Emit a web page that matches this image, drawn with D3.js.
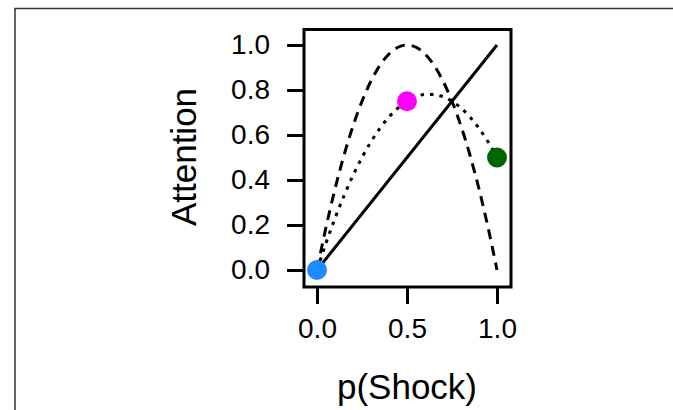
<!DOCTYPE html>
<html>
<head>
<meta charset="utf-8">
<script src="https://cdn.jsdelivr.net/npm/d3@7"></script>
<style>
  body { margin: 0; background: #fff; }
  text { font-family: "Liberation Sans", Arial, sans-serif; fill: #000; }
</style>
</head>
<body>
<div id="chart"></div>
<script>
// values
const pShock = [0, 0.05, 0.1, 0.15, 0.2, 0.25, 0.3, 0.35, 0.4, 0.45, 0.5,
                0.55, 0.6, 0.65, 0.7, 0.75, 0.8, 0.85, 0.9, 0.95, 1];
const dashedVals = [0, 0.19, 0.36, 0.51, 0.64, 0.75, 0.84, 0.91, 0.96, 0.99, 1,
                    0.99, 0.96, 0.91, 0.84, 0.75, 0.64, 0.51, 0.36, 0.19, 0];
const dottedVals = [0, 0.12, 0.23, 0.33, 0.42, 0.5, 0.57, 0.63, 0.68, 0.72, 0.75,
                    0.77, 0.78, 0.78, 0.77, 0.75, 0.72, 0.68, 0.63, 0.57, 0.5];
const solidVals = [[0, 0], [1, 1]];
const dots = [
  {p: 0, a: 0, color: "#1e8cff"},
  {p: 0.5, a: 0.75, color: "#ff00ff"},
  {p: 1, a: 0.5, color: "#006400"}
];
const yTicks = [0, 0.2, 0.4, 0.6, 0.8, 1.0];
const xTicks = [0, 0.5, 1.0];

const width = 673, height = 410;

const svg = d3.select("#chart").append("svg")
  .attr("width", width)
  .attr("height", height);

// page frame (top and left edges)
svg.append("path")
  .attr("d", "M15,410V8.5H673")
  .attr("fill", "none")
  .attr("stroke", "#333")
  .attr("stroke-width", 1.5);

const x = d3.scaleLinear().domain([0, 1]).range([317, 497]);
const y = d3.scaleLinear().domain([0, 1]).range([270, 45]);

const box = {left: 304, right: 511, top: 29.5, bottom: 287};
const lw = 3;

// y axis
const yAxis = svg.append("g")
  .attr("transform", `translate(${box.left},0)`)
  .call(d3.axisLeft(y).tickValues(yTicks).tickFormat(d3.format(".1f"))
    .tickSize(17).tickPadding(17));
yAxis.select(".domain").remove();
yAxis.selectAll("line").attr("stroke", "#000").attr("stroke-width", lw);
yAxis.selectAll("text").attr("font-size", 28).attr("fill", "#000")
  .attr("font-family", "Liberation Sans, Arial, sans-serif");

// x axis
const xAxis = svg.append("g")
  .attr("transform", `translate(0,${box.bottom})`)
  .call(d3.axisBottom(x).tickValues(xTicks).tickFormat(d3.format(".1f"))
    .tickSize(17).tickPadding(14));
xAxis.select(".domain").remove();
xAxis.selectAll("line").attr("stroke", "#000").attr("stroke-width", lw);
xAxis.selectAll("text").attr("font-size", 28).attr("fill", "#000")
  .attr("font-family", "Liberation Sans, Arial, sans-serif");

// plot box
svg.append("rect")
  .attr("x", box.left).attr("y", box.top)
  .attr("width", box.right - box.left).attr("height", box.bottom - box.top)
  .attr("fill", "none").attr("stroke", "#000").attr("stroke-width", lw);

const line = d3.line().x(d => x(d[0])).y(d => y(d[1])).curve(d3.curveMonotoneX);

svg.append("path")
  .datum(pShock.map((p, i) => [p, dashedVals[i]]))
  .attr("d", line)
  .attr("fill", "none").attr("stroke", "#000").attr("stroke-width", lw)
  .attr("stroke-dasharray", "10,7");

svg.append("path")
  .datum(pShock.map((p, i) => [p, dottedVals[i]]))
  .attr("d", line)
  .attr("fill", "none").attr("stroke", "#000").attr("stroke-width", lw)
  .attr("stroke-dasharray", "3.5,6");

svg.append("path")
  .datum(solidVals)
  .attr("d", d3.line().x(d => x(d[0])).y(d => y(d[1])))
  .attr("fill", "none").attr("stroke", "#000").attr("stroke-width", lw);

svg.selectAll(".dot")
  .data(dots)
  .enter().append("circle")
  .attr("class", "dot")
  .attr("cx", d => x(d.p))
  .attr("cy", d => y(d.a))
  .attr("r", 10)
  .attr("fill", d => d.color);

// axis titles
svg.append("text")
  .attr("x", 407).attr("y", 399)
  .attr("text-anchor", "middle")
  .attr("font-size", 35)
  .text("p(Shock)");

svg.append("text")
  .attr("transform", "translate(196,157) rotate(-90)")
  .attr("text-anchor", "middle")
  .attr("font-size", 35)
  .text("Attention");
</script>
</body>
</html>
